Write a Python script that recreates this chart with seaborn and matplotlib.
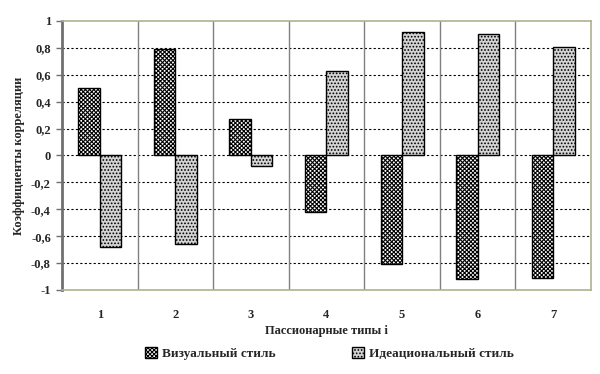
import matplotlib
matplotlib.use("Agg")
import matplotlib.pyplot as plt
import matplotlib.patches as mpatches
import seaborn as sns
import pandas as pd

# data
types = ['1', '2', '3', '4', '5', '6', '7']
visual = [0.50, 0.79, 0.27, -0.42, -0.81, -0.92, -0.91]
ideational = [-0.68, -0.66, -0.08, 0.63, 0.92, 0.90, 0.81]
series_names = ['Визуальный стиль', 'Идеациональный стиль']
yticks = [-1, -0.8, -0.6, -0.4, -0.2, 0, 0.2, 0.4, 0.6, 0.8, 1]

df = pd.DataFrame({
    'type': types * 2,
    'value': visual + ideational,
    'style': [series_names[0]] * len(types) + [series_names[1]] * len(types),
})

sns.set_style('white')
plt.rcParams['font.family'] = ['Liberation Serif', 'DejaVu Serif']
plt.rcParams['font.weight'] = 'bold'
plt.rcParams['hatch.linewidth'] = 0.8

fig = plt.figure(figsize=(6, 3.74), dpi=100)
ax = fig.add_axes([0.1033, 0.2246, 0.8817, 0.7193])

sns.barplot(data=df, x='type', y='value', hue='style', order=types,
            hue_order=series_names, palette=['white', '#d4d4d4'],
            width=0.57, gap=0, edgecolor='black', linewidth=1.0,
            errorbar=None, legend=False, ax=ax, zorder=3)

hatch_vis = 'xxxxxxxx'
hatch_ide = '.....'
for cont, h in zip(ax.containers, [hatch_vis, hatch_ide]):
    for bar in cont:
        bar.set_hatch(h)

ax.set_ylim(-1, 1)
ax.set_xlim(-0.5, len(types) - 0.5)
ax.set_yticks(yticks)
ax.set_yticklabels([('%g' % t).replace('.', ',') for t in yticks])

# horizontal dotted grid
for t in yticks[1:-1]:
    ax.axhline(t, color='black', lw=0.8, ls=(0, (2, 2)), zorder=1)
# vertical category separators
for i in range(len(types) - 1):
    ax.axvline(i + 0.5, color='#808080', lw=1.0, zorder=1)

for side in ['top', 'bottom', 'right']:
    ax.spines[side].set_color('#b0b08c')
    ax.spines[side].set_linewidth(1.2)
ax.spines['left'].set_color('#707070')
ax.spines['left'].set_linewidth(2)

ax.tick_params(axis='y', left=True, length=4, width=1, color='#707070',
               labelsize=9, pad=4)
ax.tick_params(axis='x', bottom=False, labelsize=9, pad=10)

ax.set_ylabel('Коэффициенты корреляции', fontsize=9, fontweight='bold', labelpad=4)
ax.set_xlabel('Пассионарные типы i', fontsize=9, fontweight='bold', labelpad=3)

handles = [mpatches.Patch(facecolor='white', edgecolor='black', hatch=hatch_vis, label=series_names[0]),
           mpatches.Patch(facecolor='#d4d4d4', edgecolor='black', hatch=hatch_ide, label=series_names[1])]
fig.legend(handles=handles, loc='center', bbox_to_anchor=(0.549, 0.055), ncol=2,
           frameon=False, fontsize=9.5, handlelength=0.9, handleheight=0.9,
           handletextpad=0.4, columnspacing=5.8)

fig.savefig('out.png', dpi=100)
